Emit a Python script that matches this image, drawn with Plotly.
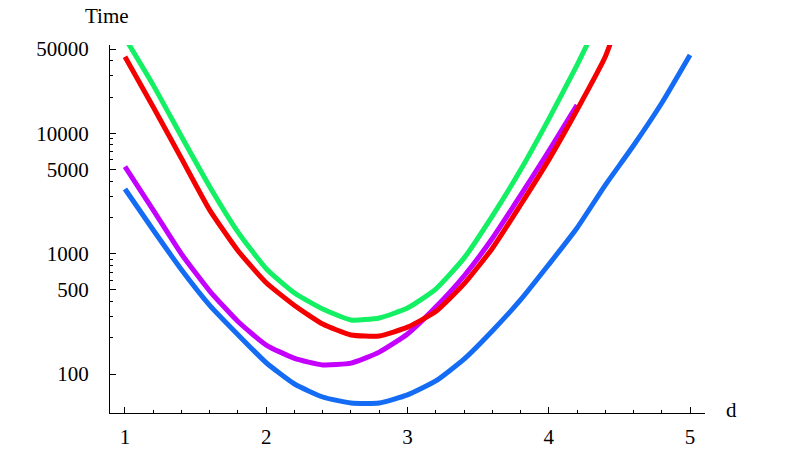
import plotly.graph_objects as go

# Data (log-scale y)
d_main = [1.0, 1.2, 1.4, 1.6, 1.8, 2.0, 2.2, 2.4, 2.6, 2.8, 3.0,
          3.2, 3.4, 3.6, 3.8, 4.0, 4.2]

blue_d = d_main + [4.4, 4.6, 4.8, 5.0]
blue_t = [3440, 1570, 735, 372, 212, 124, 82.6, 64.4, 57.4, 57.4, 67.0,
          87.5, 133, 228, 412, 811, 1633, 3707, 7907, 17820, 44670]

purple_d = d_main
purple_t = [5270, 2300, 993, 489, 273, 174, 135, 119, 123, 152, 215,
            360, 652, 1334, 3041, 7112, 17140]

red_d = d_main + [4.4, 4.45]
red_t = [43150, 16500, 6170, 2300, 1057, 573, 371, 260, 211, 207, 245,
         330, 560, 1104, 2535, 6010, 15600, 43200, 62000]

green_d = d_main + [4.3]
green_t = [62000, 25100, 9400, 3600, 1510, 750, 471, 347, 281, 292, 353,
           508, 918, 2051, 4943, 13100, 36800, 64100]

y_major = [100, 500, 1000, 5000, 10000, 50000]
y_major_text = ["100", "500", "1000", "5000", "10000", "50000"]
y_minor = [200, 300, 400, 600, 700, 800, 900, 2000, 3000, 4000,
           6000, 7000, 8000, 9000, 20000, 30000, 40000]
x_major = [1, 2, 3, 4, 5]

FONT = "Liberation Serif, Times New Roman, serif"
FSIZE = 21

fig = go.Figure()
series = [
    ("blue", blue_d, blue_t, "rgb(20,108,245)"),
    ("purple", purple_d, purple_t, "rgb(196,0,255)"),
    ("red", red_d, red_t, "rgb(245,0,0)"),
    ("green", green_d, green_t, "rgb(20,240,100)"),
]
for name, xs, ys, col in series:
    fig.add_trace(go.Scatter(
        x=xs, y=ys, mode="lines", name=name,
        line=dict(color=col, width=5, shape="spline", smoothing=0.5),
        showlegend=False,
    ))

fig.update_layout(
    width=785, height=473,
    margin=dict(l=110, r=80, t=45, b=60),
    paper_bgcolor="white", plot_bgcolor="white",
    font=dict(family=FONT, size=FSIZE, color="black"),
    annotations=[
        dict(text="Time", xref="paper", yref="paper", x=-0.005, y=1.079,
             showarrow=False, xanchor="center", yanchor="middle",
             font=dict(family=FONT, size=FSIZE, color="black")),
        dict(text="d", xref="paper", yref="paper", x=1.0437, y=0.008,
             showarrow=False, xanchor="center", yanchor="middle",
             font=dict(family=FONT, size=FSIZE, color="black")),
    ],
)
fig.update_xaxes(
    range=[0.894, 5.106], showgrid=False, zeroline=False,
    showline=True, linecolor="black", linewidth=1,
    ticks="inside", ticklen=6, tickcolor="black", tickwidth=1,
    tickvals=x_major, ticktext=[str(v) for v in x_major],
    ticklabelstandoff=5,
    minor=dict(ticks="inside", ticklen=3, tickcolor="black", dtick=0.2, tick0=0, showgrid=False),
)
fig.update_yaxes(
    type="log", range=[1.676, 4.733], showgrid=False, zeroline=False,
    showline=True, linecolor="black", linewidth=1,
    ticks="inside", ticklen=6, tickcolor="black", tickwidth=1,
    tickvals=y_major, ticktext=y_major_text,
    ticklabelstandoff=16,
    minor=dict(ticks="inside", ticklen=3, tickcolor="black", tickvals=y_minor, showgrid=False),
)

fig.write_html("out.html",
               config={"displayModeBar": False},
               post_script="document.body.style.margin='0px';document.body.style.overflow='hidden';")
